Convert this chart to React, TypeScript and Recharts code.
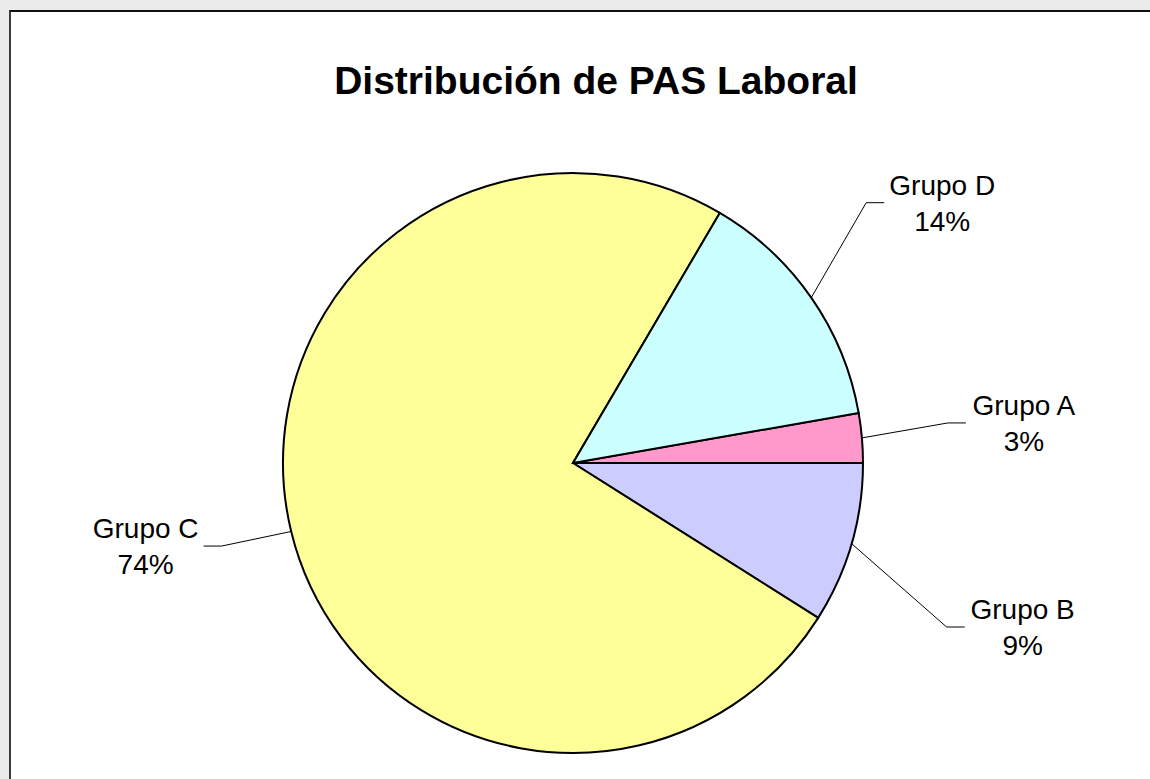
import * as React from "react";
import { PieChart, Pie, Cell } from "recharts";

// datos del gráfico
const groups = ["Grupo A", "Grupo B", "Grupo C", "Grupo D"];
const counts = [4, 13, 108, 20];
const sliceColors = ["#FF99CC", "#CCCCFF", "#FFFF99", "#CCFFFF"];
const chartTitle = "Distribución de PAS Laboral";

// colocación de las etiquetas (codo de la línea guía, en coordenadas polares)
const elbowAngle: Record<string, number> = {
  "Grupo A": 6.1,
  "Grupo B": -23.7,
  "Grupo C": 193.3,
  "Grupo D": 41.6,
};
const elbowRadius: Record<string, number> = {
  "Grupo A": 1.3,
  "Grupo B": 1.407,
  "Grupo C": 1.245,
  "Grupo D": 1.352,
};

const W = 1150;
const H = 779;
const RAD = Math.PI / 180;
const FONT = "'Liberation Sans', Arial, sans-serif";

const data = groups.map((g, i) => ({ name: g, value: counts[i] }));
const total = counts.reduce((a, b) => a + b, 0);
// el primer sector termina justo en las 3 en punto
const startAngle = (360 * counts[0]) / total;

function renderLabel(props: any) {
  const { cx, cy, midAngle, outerRadius, percent, name } = props;
  const x0 = cx + outerRadius * Math.cos(-midAngle * RAD);
  const y0 = cy + outerRadius * Math.sin(-midAngle * RAD);
  const ea = elbowAngle[name] ?? midAngle;
  const er = outerRadius * (elbowRadius[name] ?? 1.3);
  const x1 = cx + er * Math.cos(-ea * RAD);
  const y1 = cy + er * Math.sin(-ea * RAD);
  const dir = x1 >= cx ? 1 : -1;
  const x2 = x1 + dir * 18;
  const tx = x2 + dir * 58;
  return (
    <g>
      <polyline
        points={`${x0},${y0} ${x1},${y1} ${x2},${y1}`}
        fill="none"
        stroke="#000"
        strokeWidth={1}
      />
      <text x={tx} y={y1 - 8} textAnchor="middle" fill="#000" fontSize={28} fontFamily={FONT}>
        {name}
      </text>
      <text x={tx} y={y1 + 28} textAnchor="middle" fill="#000" fontSize={28} fontFamily={FONT}>
        {`${Math.round(percent * 100)}%`}
      </text>
    </g>
  );
}

export default function App() {
  return (
    <div
      style={{
        position: "absolute",
        left: 0,
        top: 0,
        width: W,
        height: H,
        background: "#ebebeb",
        overflow: "hidden",
      }}
    >
      <div
        style={{
          position: "absolute",
          left: 9,
          top: 10,
          right: 0,
          bottom: 0,
          background: "#fff",
          borderTop: "2px solid #111",
          borderLeft: "2px solid #3a3a3a",
        }}
      />
      <div style={{ position: "absolute", left: 0, top: 0 }}>
        <PieChart width={W} height={H} margin={{ top: 0, right: 0, bottom: 0, left: 0 }}>
          <Pie
            data={data}
            dataKey="value"
            nameKey="name"
            cx={573}
            cy={463}
            outerRadius={290}
            startAngle={startAngle}
            endAngle={startAngle - 360}
            stroke="#000"
            strokeWidth={2}
            label={renderLabel}
            labelLine={false}
            isAnimationActive={false}
          >
            {data.map((d, i) => (
              <Cell key={d.name} fill={sliceColors[i]} />
            ))}
          </Pie>
        </PieChart>
      </div>
      <svg
        width={W}
        height={H}
        style={{ position: "absolute", left: 0, top: 0, pointerEvents: "none" }}
      >
        <text
          x={596}
          y={94}
          textAnchor="middle"
          fontSize={39}
          fontWeight="bold"
          fontFamily={FONT}
          fill="#000"
        >
          {chartTitle}
        </text>
      </svg>
    </div>
  );
}
